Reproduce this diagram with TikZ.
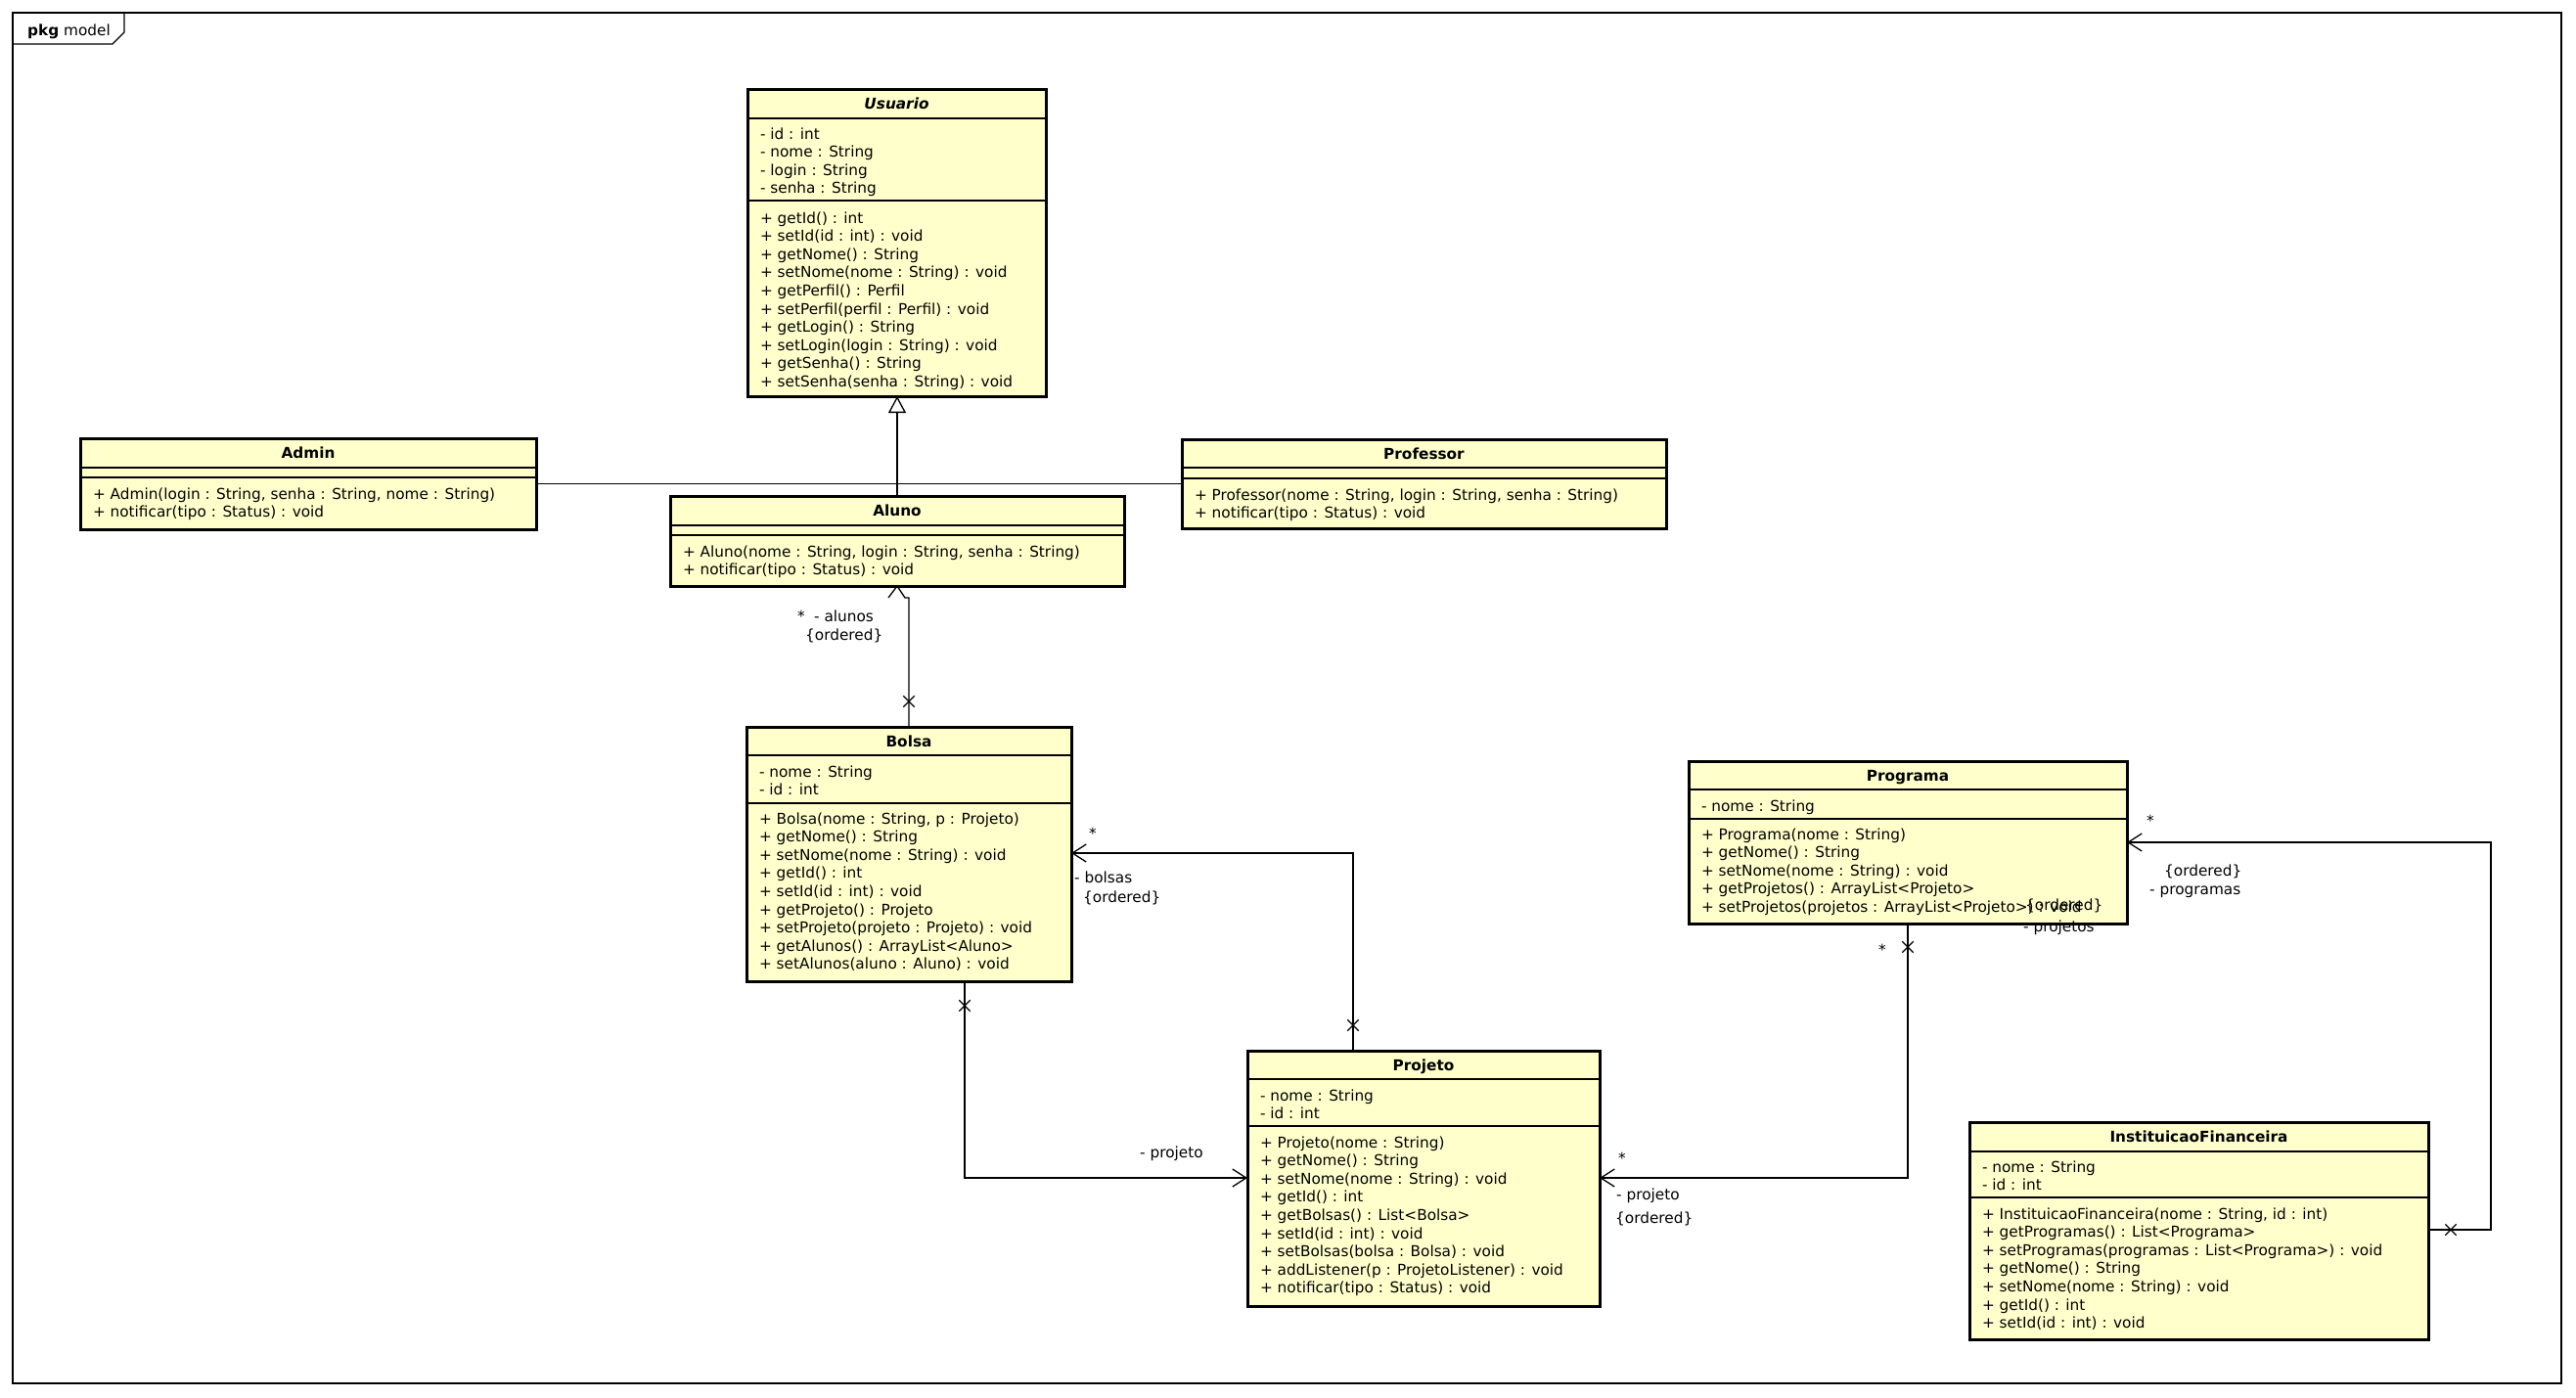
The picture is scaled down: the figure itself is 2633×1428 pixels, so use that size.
\documentclass[tikz,border=0pt]{standalone}
\usepackage{fontspec}
\setmainfont{DejaVu Sans}
\usetikzlibrary{arrows.meta,shapes.misc,calc}
\definecolor{classfill}{HTML}{FFFFCC}
\newcommand\umlfont{\fontsize{15.3}{18.6}\selectfont}
\newcommand\umlclass[8]{%
  \node[classbox, anchor=north west, minimum width={(#4)-(#2)}, minimum height={(#5)-(#3)}] (#1) at (#2,#3) {};
  \draw[sepline] (#2,#6) -- (#4,#6) (#2,#7) -- (#4,#7);
  \node[ttl] (#1-title) at ({(#2+#4)/2},{(#3+#6)/2+5.5}) {#8};
}
\newcommand\umlcomp[4]{%
  \node[txt] (#1) at (#2,{#3-13.02}) {\strut#4};
}
\begin{document}
\begin{tikzpicture}[x=1pt,y=-1pt,
  classbox/.style={draw, line width=3pt, fill=classfill, inner sep=0pt, outer sep=0pt},
  sepline/.style={line width=1.3pt},
  txt/.style={font=\umlfont, align=left, inner sep=0pt, outer sep=0pt, anchor=north west},
  ttl/.style={font=\umlfont\bfseries, inner sep=0pt, anchor=base},
  lbl/.style={font=\umlfont, inner sep=0pt, anchor=base west},
  conn/.style={line width=1.3pt},
  assoc/.style={conn, -{Straight Barb[length=14pt,width=18pt]}},
  gen/.style={conn, -{Triangle[open,length=17pt,width=18pt,fill=white]}},
  xmark/.style={cross out, draw, line width=1.3pt, minimum size=10pt, inner sep=0pt},
]
\useasboundingbox (0,0) rectangle (2633,1428);

% frame
\node[draw, line width=1.3pt, minimum width=2605, minimum height=1401, anchor=north west, inner sep=0pt, outer sep=0pt] (frame) at (13,13) {};
\draw[line width=1.3pt] (13,45) -- (115,45) -- (127,33) -- (127,13);
\node[lbl] (pkg) at (28,36) {\textbf{pkg} model};

% Usuario
\umlclass{usuario}{764}{91}{1069}{405}{121}{205}{\itshape Usuario}
\umlcomp{usuario-a}{777}{142}{- id : int\\- nome : String\\- login : String\\- senha : String}
\umlcomp{usuario-o}{777}{228}{+ getId() : int\\+ setId(id : int) : void\\+ getNome() : String\\+ setNome(nome : String) : void\\+ getPerfil() : Perfil\\+ setPerfil(perfil : Perfil) : void\\+ getLogin() : String\\+ setLogin(login : String) : void\\+ getSenha() : String\\+ setSenha(senha : String) : void}

% Admin
\umlclass{admin}{82}{448}{548}{541}{478}{488}{Admin}
\umlcomp{admin-o}{95}{510}{+ Admin(login : String, senha : String, nome : String)\\+ notificar(tipo : Status) : void}

% Aluno
\umlclass{aluno}{685}{507}{1149}{599}{537}{547}{Aluno}
\umlcomp{aluno-o}{698}{569}{+ Aluno(nome : String, login : String, senha : String)\\+ notificar(tipo : Status) : void}

% Professor
\umlclass{professor}{1208}{449}{1703}{540}{478}{489}{Professor}
\umlcomp{professor-o}{1221}{511}{+ Professor(nome : String, login : String, senha : String)\\+ notificar(tipo : Status) : void}

% Bolsa
\umlclass{bolsa}{763}{743}{1095}{1003}{772}{821}{Bolsa}
\umlcomp{bolsa-a}{776}{794}{- nome : String\\- id : int}
\umlcomp{bolsa-o}{776}{842}{+ Bolsa(nome : String, p : Projeto)\\+ getNome() : String\\+ setNome(nome : String) : void\\+ getId() : int\\+ setId(id : int) : void\\+ getProjeto() : Projeto\\+ setProjeto(projeto : Projeto) : void\\+ getAlunos() : ArrayList<Aluno>\\+ setAlunos(aluno : Aluno) : void}

% Programa
\umlclass{programa}{1726}{778}{2174}{944}{807}{837}{Programa}
\umlcomp{programa-a}{1739}{829}{- nome : String}
\umlcomp{programa-o}{1739}{858}{+ Programa(nome : String)\\+ getNome() : String\\+ setNome(nome : String) : void\\+ getProjetos() : ArrayList<Projeto>\\+ setProjetos(projetos : ArrayList<Projeto>) : void}

% Projeto
\umlclass{projeto}{1275}{1074}{1635}{1335}{1103}{1151}{Projeto}
\umlcomp{projeto-a}{1288}{1125}{- nome : String\\- id : int}
\umlcomp{projeto-o}{1288}{1173}{+ Projeto(nome : String)\\+ getNome() : String\\+ setNome(nome : String) : void\\+ getId() : int\\+ getBolsas() : List<Bolsa>\\+ setId(id : int) : void\\+ setBolsas(bolsa : Bolsa) : void\\+ addListener(p : ProjetoListener) : void\\+ notificar(tipo : Status) : void}

% InstituicaoFinanceira
\umlclass{instfin}{2013}{1147}{2482}{1369}{1177}{1224}{InstituicaoFinanceira}
\umlcomp{instfin-a}{2026}{1198}{- nome : String\\- id : int}
\umlcomp{instfin-o}{2026}{1246}{+ InstituicaoFinanceira(nome : String, id : int)\\+ getProgramas() : List<Programa>\\+ setProgramas(programas : List<Programa>) : void\\+ getNome() : String\\+ setNome(nome : String) : void\\+ getId() : int\\+ setId(id : int) : void}

% generalization
\draw[gen] (aluno.north) -- (aluno.north |- usuario.south);
\draw[conn] (admin.east) -- (professor.west);

% Aluno - Bolsa
\coordinate (ab-bend) at (929,611);
\draw[conn] (bolsa.north -| ab-bend) -- (ab-bend) -- ($(aluno.south)+(8,12)$) -- (aluno.south) -- ($(aluno.south)+(-9,12)$);
\node[xmark] (ab-x) at (929,717) {};
\node[lbl] (ab-m) at (815,635) {*};
\node[lbl] (ab-r) at (832,635) {- alunos};
\node[lbl] (ab-o) at (823,654) {\{ordered\}};

% Bolsa - Projeto (bolsas)
\coordinate (bp1) at (1383,872);
\draw[assoc] (projeto.north -| bp1) |- (bolsa.east |- bp1);
\node[xmark] (bp1-x) at (1383,1048) {};
\node[lbl] (bp1-m) at (1113,857) {*};
\node[lbl] (bp1-r) at (1098,902) {- bolsas};
\node[lbl] (bp1-o) at (1107,922) {\{ordered\}};

% Bolsa - Projeto (projeto)
\coordinate (bp2) at (986,1204);
\draw[assoc] (bolsa.south -| bp2) |- (projeto.west |- bp2);
\node[xmark] (bp2-x) at (986,1028) {};
\node[lbl] (bp2-r) at (1165,1183) {- projeto};

% Programa - Projeto
\coordinate (pp) at (1950,1204);
\draw[assoc] (programa.south -| pp) |- (projeto.east |- pp);
\node[xmark] (pp-x) at (1950,968) {};
\node[lbl] (pp-m1) at (1920,976) {*};
\node[lbl] (pp-m2) at (1654,1189) {*};
\node[lbl] (pp-r2) at (1652,1226) {- projeto};
\node[lbl] (pp-o2) at (1651,1250) {\{ordered\}};
\node[lbl] (pp-o1) at (2070,930) {\{ordered\}};
\node[lbl] (pp-r1) at (2068,952) {- projetos};

% InstituicaoFinanceira - Programa
\coordinate (ip1) at (2546,1257);
\coordinate (ip2) at (2546,861);
\draw[assoc] (instfin.east |- ip1) -- (ip1) -- (ip2) -- (programa.east |- ip2);
\node[xmark] (ip-x) at (2505,1257) {};
\node[lbl] (ip-m) at (2194,844) {*};
\node[lbl] (ip-o) at (2212,895) {\{ordered\}};
\node[lbl] (ip-r) at (2197,914) {- programas};
\end{tikzpicture}
\end{document}
